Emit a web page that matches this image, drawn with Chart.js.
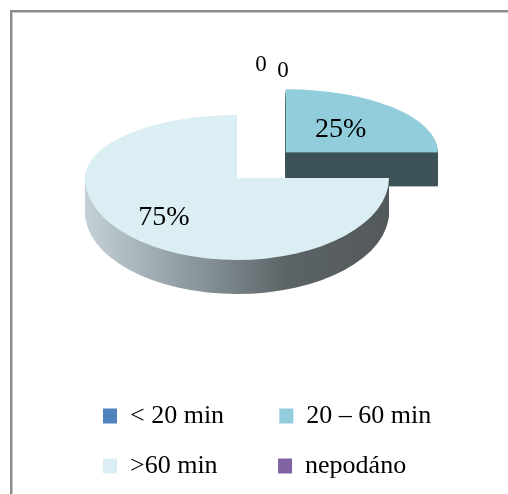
<!DOCTYPE html>
<html>
<head>
<meta charset="utf-8">
<script src="https://cdn.jsdelivr.net/npm/chart.js@4/dist/chart.umd.min.js"></script>
<style>
  html, body { margin: 0; padding: 0; background: #fff; overflow: hidden; }
  #wrap { position: relative; width: 508px; height: 494px; }
</style>
</head>
<body>
<div id="wrap"><canvas id="c" width="508" height="494"></canvas></div>
<script>
// Travel time categories and number of answers (%)
const categories = ['< 20 min', '20 \u2013 60 min', '>60 min', 'nepod\u00e1no'];
const responses = [0, 25, 75, 0];
const sliceColors = ['#4F81BD', '#92CDDC', '#DAEEF3', '#8064A2'];

const SERIF = '"Liberation Serif", "Times New Roman", serif';

// Extruded side colours of each slice (solid or horizontal gradient stops)
const sideStyles = {
  1: ['#3E5358'],
  2: ['#C4D2D7', '#8E9CA1', '#5C6366', '#53595B']
};

function sideFill(ctx, arc, i) {
  const stops = sideStyles[i] || ['#666'];
  if (stops.length === 1) return stops[0];
  const R = arc.outerRadius;
  const g = ctx.createLinearGradient(arc.x - R, 0, arc.x + R, 0);
  stops.forEach((c, k) => g.addColorStop(k / (stops.length - 1), c));
  return g;
}

// Draw one slice as a tilted disc: the far half and near half use different
// vertical squash so the disc looks seen in perspective.
function drawPiece(chart, p, k, fill, o) {
  const ctx = chart.ctx, arc = p.arc, R = arc.outerRadius;
  const sx = o.rx / R;
  const orig = arc.options;
  if (fill) arc.options = Object.assign({}, orig, { backgroundColor: fill, borderWidth: 0 });
  const cy = p.ey + k;
  [[o.ryBack / R, true], [o.ryFront / R, false]].forEach(([sy, upper]) => {
    ctx.save();
    ctx.beginPath();
    if (upper) ctx.rect(0, 0, chart.width, cy + 0.5);
    else ctx.rect(0, cy - 0.5, chart.width, chart.height - cy + 0.5);
    ctx.clip();
    ctx.translate(p.ex, cy);
    ctx.scale(sx, sy);
    ctx.translate(-arc.x, -arc.y);
    arc.draw(ctx);
    ctx.restore();
  });
  arc.options = orig;
}

function pieces(chart, o) {
  const arcs = chart.getDatasetMeta(0).data;
  return arcs.map((arc, i) => {
    const mid = (arc.startAngle + arc.endAngle) / 2;
    const e = o.explode[i] || 0;
    return {
      arc, i, mid,
      ex: o.cx + Math.cos(mid) * e,
      ey: o.cy + Math.sin(mid) * e * o.explodeTilt
    };
  });
}

const pie3d = {
  id: 'pie3d',
  beforeDraw(chart) {
    const ctx = chart.ctx;
    ctx.save();
    ctx.fillStyle = '#8C8C8C';
    ctx.fillRect(10, 10, chart.width - 10, 2);
    ctx.fillRect(10, 10, 2, chart.height - 10);
    ctx.fillStyle = '#C8C8C8';
    ctx.fillRect(12, 12, chart.width - 12, 1);
    ctx.fillRect(12, 12, 1, chart.height - 12);
    ctx.restore();
  },
  beforeDatasetsDraw(chart, args, o) {
    const ps = pieces(chart, o).filter(p => p.arc.circumference > 0);
    ps.sort((a, b) => a.ey - b.ey);
    for (const p of ps) {
      const fill = sideFill(chart.ctx, p.arc, p.i);
      for (let k = o.depth; k >= 1; k--) drawPiece(chart, p, k, fill, o);
      drawPiece(chart, p, 0, null, o);
    }
    return false;
  },
  afterDraw(chart, args, o) {
    const ctx = chart.ctx;
    const data = chart.data.datasets[0].data;
    const total = data.reduce((a, b) => a + b, 0);
    let z = 0;
    ctx.save();
    ctx.fillStyle = '#000';
    ctx.textAlign = 'center';
    ctx.textBaseline = 'middle';
    pieces(chart, o).forEach(p => {
      const v = data[p.i];
      if (v > 0) {
        const f = o.labelRadius[p.i];
        const s = Math.sin(p.mid);
        const x = p.ex + Math.cos(p.mid) * f * o.rx;
        const y = p.ey + s * f * (s < 0 ? o.ryBack : o.ryFront);
        ctx.font = '28px ' + SERIF;
        ctx.fillText(Math.round(v / total * 100) + '%', x, y);
      } else {
        const [dx, dy] = o.zeroNudge[z++] || [0, -50];
        ctx.font = '23px ' + SERIF;
        ctx.fillText(String(v), o.cx + dx, o.cy - o.ryBack + dy);
      }
    });
    ctx.restore();
  }
};

const LEGEND_COL = 121;
const legendFont = { family: SERIF, size: 26 };

new Chart(document.getElementById('c'), {
  type: 'pie',
  data: {
    labels: categories,
    datasets: [{
      data: responses,
      backgroundColor: sliceColors,
      borderWidth: 0,
      hoverOffset: 0
    }]
  },
  options: {
    responsive: false,
    animation: false,
    events: [],
    layout: { padding: { left: 79, right: 0, top: 0, bottom: 5 } },
    plugins: {
      tooltip: { enabled: false },
      legend: {
        position: 'bottom',
        align: 'start',
        labels: {
          font: legendFont,
          color: '#000',
          boxWidth: 14,
          boxHeight: 15,
          padding: 24,
          generateLabels(chart) {
            const base = (Chart.overrides.pie || Chart.overrides.doughnut).plugins.legend.labels.generateLabels;
            const items = base(chart);
            const ctx = chart.ctx;
            ctx.save();
            ctx.font = legendFont.size + 'px ' + SERIF;
            items.forEach((it, i) => {
              if (i % 2 === 0) {
                while (ctx.measureText(it.text).width < LEGEND_COL) it.text += '\u2009';
              }
            });
            ctx.restore();
            return items;
          }
        }
      },
      pie3d: {
        cx: 237, cy: 178, rx: 152, ryBack: 63, ryFront: 82,
        depth: 34,
        explode: [0, 69, 0, 0],
        explodeTilt: 0.53,
        labelRadius: [0.6, 0.51, 0.68, 0.6],
        zeroNudge: [[24, -50], [46, -44]]
      }
    }
  },
  plugins: [pie3d]
});
</script>
</body>
</html>
